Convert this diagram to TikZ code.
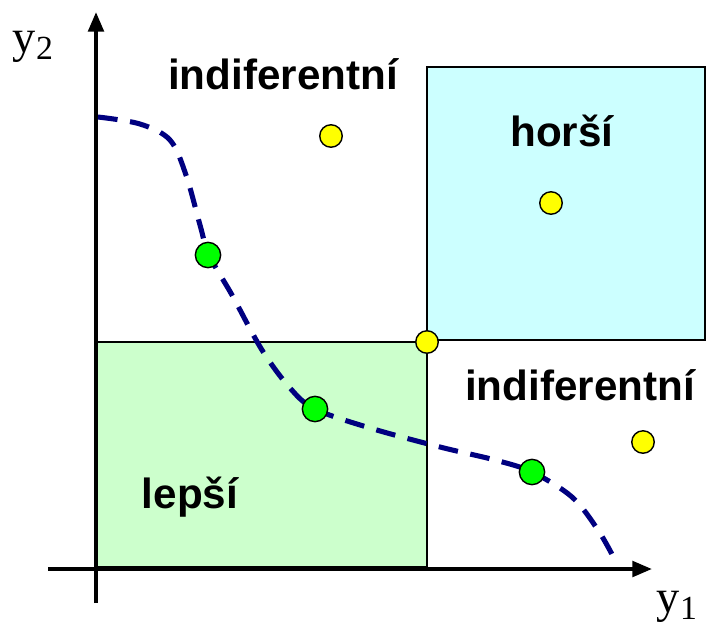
\documentclass[tikz,border=0pt]{standalone}
\usepackage{fontspec}
\setmainfont{Liberation Serif}
\setsansfont{Liberation Sans}
\usetikzlibrary{arrows.meta}
\definecolor{betterbg}{RGB}{204,255,204}
\definecolor{worsebg}{RGB}{204,255,255}
\definecolor{frontline}{RGB}{0,0,128}
\definecolor{dompt}{RGB}{255,255,0}
\definecolor{optpt}{RGB}{0,255,0}
\definecolor{ink}{RGB}{0,0,0}

\begin{document}
\begin{tikzpicture}[x=0.025cm,y=-0.025cm,
    axis/.style={ink,line width=2.8pt,-{Triangle[length=14pt,width=11pt]}},
    region/.style={draw=ink,line width=1pt},
    lab/.style={text=ink,font=\fontsize{30}{33}\selectfont\sffamily\bfseries},
    axlab/.style={text=ink,font=\fontsize{33}{36}\selectfont},
    pt/.style={circle,draw=ink,line width=1pt,inner sep=0pt,minimum size=#1}]
  \useasboundingbox (0,0) rectangle (714,633);
  % regions
  \fill[betterbg,region] (97,342) rectangle (427,567);
  \fill[worsebg,region] (427,67) rectangle (705,340);
  % axes
  \coordinate (xs) at (48,569);
  \coordinate (xe) at (652,569);
  \coordinate (ys) at (96,603);
  \coordinate (ye) at (96,12);
  \draw[axis] (xs) -- (xe);
  \draw[axis] (ys) -- (ye);
  \node[axlab] (ylab2) at (33,47) {y\raisebox{-0.3ex}{\fontsize{24}{27}\selectfont 2}};
  \node[axlab] (ylab1) at (677,607) {y\raisebox{-0.3ex}{\fontsize{24}{27}\selectfont 1}};
  % front
  \draw[frontline,line width=3.6pt,dash pattern=on 14pt off 9pt]
     plot[smooth,tension=0.55] coordinates {(98,117) (140,124) (170,140) (186,175)
       (200,225) (209,255) (232,295) (262,350) (290,388) (315,409) (370,428)
       (440,447) (495,460) (532,472) (572,497) (598,530) (615,560)};
  % points
  \foreach \n/\x/\y/\col/\s in {%
     d1/331/136/dompt/16pt,
     d2/551/203/dompt/16pt,
     d3/427/342/dompt/16pt,
     d4/643/442/dompt/16pt,
     p1/208/255/optpt/18pt,
     p2/315/409/optpt/18pt,
     p3/532/472/optpt/18pt}{
     \node[pt=\s,fill=\col] (\n) at (\x,\y) {};
  }
  % labels
  \node[lab] (ind1) at (283,74) {indiferentní};
  \node[lab] (ind2) at (580,385) {indiferentní};
  \node[lab] (hor) at (562,131) {horší};
  \node[lab] (lep) at (190,497) {lepší};
\end{tikzpicture}
\end{document}
